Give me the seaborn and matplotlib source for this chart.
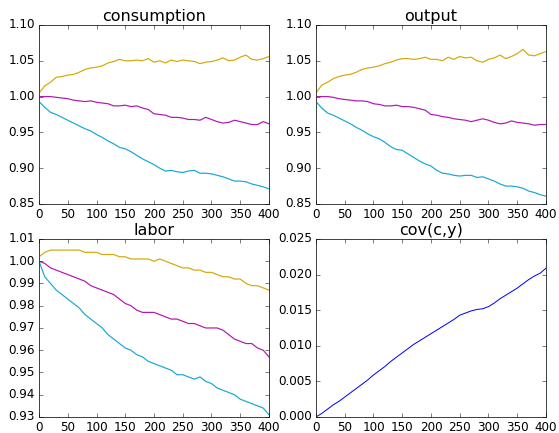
import numpy as np
import pandas as pd
import matplotlib
matplotlib.use("Agg")
import matplotlib.pyplot as plt
import seaborn as sns

steps = list(range(0, 401, 10))

cons_gold = [1.005, 1.015, 1.020, 1.027, 1.028, 1.030, 1.031, 1.034, 1.038, 1.040, 1.041,
             1.043, 1.047, 1.049, 1.052, 1.050, 1.050, 1.051, 1.050, 1.053, 1.048,
             1.050, 1.047, 1.051, 1.049, 1.051, 1.050, 1.049, 1.046, 1.048, 1.049,
             1.051, 1.054, 1.050, 1.051, 1.055, 1.058, 1.052, 1.051, 1.053, 1.056]
cons_purple = [1.000, 1.000, 1.000, 0.999, 0.998, 0.997, 0.995, 0.994, 0.993, 0.994, 0.992,
               0.991, 0.990, 0.987, 0.987, 0.988, 0.986, 0.987, 0.984, 0.982, 0.976,
               0.975, 0.974, 0.971, 0.971, 0.970, 0.968, 0.968, 0.967, 0.971, 0.968,
               0.965, 0.963, 0.964, 0.967, 0.965, 0.963, 0.961, 0.961, 0.965, 0.962]
cons_cyan = [0.993, 0.985, 0.978, 0.975, 0.971, 0.967, 0.963, 0.959, 0.955, 0.952, 0.947,
             0.943, 0.938, 0.934, 0.929, 0.927, 0.923, 0.918, 0.913, 0.909, 0.905,
             0.900, 0.896, 0.897, 0.895, 0.894, 0.896, 0.897, 0.893, 0.893, 0.892,
             0.890, 0.888, 0.885, 0.882, 0.882, 0.881, 0.878, 0.876, 0.874, 0.871]

out_gold = [1.005, 1.016, 1.020, 1.025, 1.028, 1.030, 1.031, 1.034, 1.038, 1.040, 1.041,
            1.043, 1.046, 1.048, 1.051, 1.053, 1.053, 1.052, 1.053, 1.055, 1.052,
            1.052, 1.050, 1.055, 1.052, 1.056, 1.054, 1.055, 1.050, 1.048, 1.052,
            1.054, 1.058, 1.053, 1.056, 1.060, 1.066, 1.058, 1.057, 1.060, 1.063]
out_purple = [1.000, 1.000, 1.000, 0.999, 0.997, 0.996, 0.995, 0.994, 0.994, 0.993, 0.990,
              0.989, 0.987, 0.987, 0.988, 0.986, 0.986, 0.985, 0.983, 0.981, 0.975,
              0.974, 0.972, 0.971, 0.969, 0.968, 0.967, 0.965, 0.967, 0.969, 0.967,
              0.964, 0.962, 0.963, 0.966, 0.964, 0.963, 0.962, 0.960, 0.961, 0.961]
out_cyan = [0.993, 0.984, 0.977, 0.974, 0.970, 0.966, 0.962, 0.957, 0.953, 0.948, 0.944,
            0.941, 0.936, 0.930, 0.926, 0.925, 0.920, 0.915, 0.910, 0.906, 0.903,
            0.897, 0.893, 0.892, 0.890, 0.889, 0.890, 0.890, 0.887, 0.888, 0.885,
            0.882, 0.878, 0.875, 0.875, 0.874, 0.872, 0.868, 0.866, 0.863, 0.861]

lab_gold = [1.002, 1.004, 1.005, 1.005, 1.005, 1.005, 1.005, 1.005, 1.004, 1.004, 1.004,
            1.003, 1.003, 1.003, 1.002, 1.002, 1.001, 1.001, 1.001, 1.001, 1.000,
            1.001, 1.000, 0.999, 0.998, 0.997, 0.997, 0.996, 0.996, 0.995, 0.995,
            0.994, 0.993, 0.993, 0.992, 0.992, 0.990, 0.989, 0.989, 0.988, 0.987]
lab_purple = [1.000, 0.999, 0.997, 0.996, 0.995, 0.994, 0.993, 0.992, 0.991, 0.989, 0.988,
              0.987, 0.986, 0.985, 0.983, 0.981, 0.980, 0.978, 0.977, 0.977, 0.977,
              0.976, 0.975, 0.974, 0.974, 0.973, 0.972, 0.972, 0.971, 0.970, 0.970,
              0.970, 0.969, 0.967, 0.965, 0.964, 0.963, 0.963, 0.961, 0.960, 0.957]
lab_cyan = [1.000, 0.993, 0.990, 0.987, 0.985, 0.983, 0.981, 0.979, 0.976, 0.974, 0.972,
            0.970, 0.967, 0.965, 0.963, 0.961, 0.960, 0.958, 0.957, 0.955, 0.954,
            0.953, 0.952, 0.951, 0.949, 0.949, 0.948, 0.947, 0.948, 0.946, 0.945,
            0.943, 0.942, 0.941, 0.940, 0.938, 0.937, 0.936, 0.935, 0.934, 0.931]

cov_cy = [0.0000, 0.0005, 0.0011, 0.0017, 0.0022, 0.0028, 0.0034, 0.0040, 0.0046, 0.0052, 0.0059,
          0.0065, 0.0071, 0.0078, 0.0084, 0.0090, 0.0096, 0.0102, 0.0107, 0.0112, 0.0117,
          0.0122, 0.0127, 0.0132, 0.0137, 0.0143, 0.0146, 0.0149, 0.0151, 0.0152, 0.0155,
          0.0160, 0.0166, 0.0171, 0.0176, 0.0181, 0.0187, 0.0193, 0.0198, 0.0202, 0.0209]

titles = ["consumption", "output", "labor", "cov(c,y)"]
series_names = ["gold", "purple", "cyan"]
colors = {"gold": "#d4a80c", "purple": "#b218b2", "cyan": "#18a8d4"}

plt.style.use("classic")
plt.rcParams["font.family"] = ["DejaVu Sans"]

fig = plt.figure(figsize=(559 / 72, 433 / 72), dpi=72, facecolor="white")
positions = [
    [0.0698, 0.5289, 0.4114, 0.4134],
    [0.5653, 0.5289, 0.4114, 0.4134],
    [0.0698, 0.0370, 0.4114, 0.4111],
    [0.5653, 0.0370, 0.4114, 0.4111],
]
panel_data = [
    (cons_gold, cons_purple, cons_cyan),
    (out_gold, out_purple, out_cyan),
    (lab_gold, lab_purple, lab_cyan),
]
ylims = [(0.85, 1.10), (0.85, 1.10), (0.93, 1.01), (0.0, 0.025)]
yticks = [np.arange(0.85, 1.1001, 0.05), np.arange(0.85, 1.1001, 0.05),
          np.arange(0.93, 1.0101, 0.01), np.arange(0.0, 0.02501, 0.005)]
yfmt = ["%.2f", "%.2f", "%.2f", "%.3f"]

for i, pos in enumerate(positions):
    ax = fig.add_axes(pos)
    ax.set_facecolor("white")
    if i < 3:
        frames = []
        for name, vals in zip(series_names, panel_data[i]):
            frames.append(pd.DataFrame({"t": steps, "v": vals, "s": name}))
        df = pd.concat(frames, ignore_index=True)
        sns.lineplot(data=df, x="t", y="v", hue="s", palette=colors, ax=ax,
                     linewidth=1.2, legend=False)
    else:
        df = pd.DataFrame({"t": steps, "v": cov_cy})
        sns.lineplot(data=df, x="t", y="v", color="#0000ff", ax=ax, linewidth=1.0)
    ax.set_xlim(0, 400)
    ax.set_ylim(*ylims[i])
    ax.set_xticks(range(0, 401, 50))
    ax.set_yticks(yticks[i])
    ax.set_yticklabels([yfmt[i] % v for v in yticks[i]])
    ax.set_xlabel("")
    ax.set_ylabel("")
    ax.set_title(titles[i], fontsize=16, pad=4)
    ax.tick_params(direction="in", labelsize=12, top=True, right=True)
    for sp in ax.spines.values():
        sp.set_color("#444444")

fig.savefig("out.png", dpi=72, facecolor="white")
